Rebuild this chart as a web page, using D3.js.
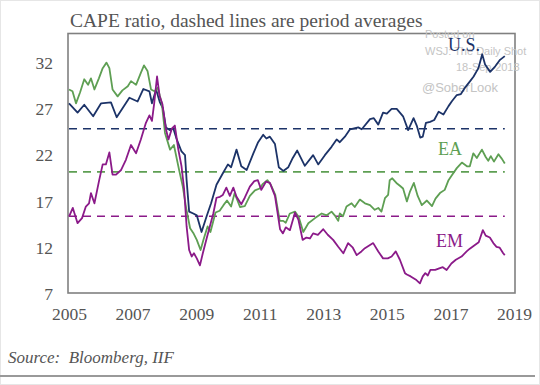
<!DOCTYPE html>
<html lang="en">
<head>
<meta charset="utf-8"/>
<title>CAPE ratio</title>
<script src="https://d3js.org/d3.v7.min.js"></script>
<style>
body { margin: 0; background: #fff; }
.title { font-family: "Liberation Serif", serif; font-size: 19.5px; fill: #555; }
.axis text { font-family: "Liberation Serif", serif; font-size: 17.5px; fill: #555; }
.axis path, .axis line { display: none; }
.line { fill: none; stroke-width: 1.8; stroke-linejoin: round; }
.avg { stroke-width: 1.6; stroke-dasharray: 8, 6; }
.label { font-family: "Liberation Serif", serif; font-size: 18px; }
.mark { font-family: "Liberation Sans", Arial, sans-serif; fill: #c4c4c4; }
.source { font-family: "Liberation Serif", serif; font-style: italic; font-size: 17px; fill: #555; }
</style>
</head>
<body>
<div id="chart"></div>
<script>
// values: [year, CAPE]
var usSeries = [[2005.00,27.6],[2005.27,26.6],[2005.48,27.45],[2005.76,26.2],[2006.01,27.6],[2006.32,27.7],[2006.50,26.1],
  [2006.90,28.2],[2007.16,27.8],[2007.34,29.15],[2007.53,28.9],[2007.61,27.6],[2007.74,29.1],[2007.86,27.7],[2007.95,27.1],
  [2008.05,25.0],[2008.18,24.7],[2008.28,24.9],[2008.39,23.7],[2008.54,22.4],[2008.65,22.0],[2008.70,19.3],[2008.78,15.9],
  [2008.91,15.7],[2009.02,15.5],[2009.17,13.7],[2009.33,15.4],[2009.47,16.8],[2009.64,18.8],[2009.85,20.1],[2010.00,21.0],
  [2010.10,20.7],[2010.27,22.6],[2010.42,20.8],[2010.59,20.4],[2010.80,22.2],[2010.95,23.4],[2011.11,24.2],[2011.21,23.8],
  [2011.32,24.0],[2011.48,23.2],[2011.60,20.7],[2011.74,20.3],[2011.90,20.7],[2012.04,21.7],[2012.18,22.5],[2012.42,20.85],
  [2012.68,22.0],[2012.84,21.0],[2013.05,22.0],[2013.26,22.9],[2013.42,23.7],[2013.52,23.4],[2013.68,24.0],[2013.84,24.8],
  [2014.10,25.0],[2014.21,24.8],[2014.47,25.9],[2014.59,26.0],[2014.73,25.3],[2014.88,26.6],[2015.00,26.5],[2015.15,27.0],
  [2015.31,27.0],[2015.51,26.2],[2015.67,24.7],[2015.84,26.0],[2015.94,25.2],[2016.05,23.9],[2016.13,24.0],[2016.23,25.5],
  [2016.36,25.6],[2016.49,25.8],[2016.63,26.7],[2016.78,26.4],[2016.94,27.3],[2017.04,27.8],[2017.20,28.5],[2017.33,28.6],
  [2017.46,29.3],[2017.62,30.0],[2017.73,30.5],[2017.88,31.4],[2018.00,32.9],[2018.09,31.8],[2018.25,31.0],[2018.41,31.6],
  [2018.56,32.3],[2018.71,32.7]];

var eaSeries = [[2005.00,29.1],[2005.11,28.9],[2005.22,27.6],[2005.35,28.8],[2005.48,30.2],[2005.60,29.6],[2005.69,30.3],
  [2005.80,29.1],[2005.94,30.3],[2006.06,31.4],[2006.18,32.0],[2006.27,31.4],[2006.37,29.1],[2006.53,28.35],[2006.68,29.0],
  [2006.85,29.45],[2006.95,30.0],[2007.11,29.6],[2007.26,30.9],[2007.36,31.7],[2007.47,31.1],[2007.58,29.1],[2007.69,28.9],
  [2007.79,29.3],[2007.92,27.6],[2008.02,24.4],[2008.18,22.6],[2008.30,23.1],[2008.47,20.3],[2008.58,18.6],[2008.69,16.2],
  [2008.81,14.1],[2008.91,13.6],[2009.02,12.85],[2009.14,11.75],[2009.23,12.85],[2009.36,14.3],[2009.45,13.7],[2009.61,15.8],
  [2009.74,16.0],[2009.86,16.6],[2009.97,17.1],[2010.10,16.45],[2010.21,17.9],[2010.38,16.4],[2010.53,16.5],[2010.69,17.6],
  [2010.85,18.2],[2011.00,18.4],[2011.10,18.9],[2011.24,19.3],[2011.35,18.8],[2011.49,17.7],[2011.63,14.9],[2011.74,14.9],
  [2011.82,14.7],[2011.95,15.7],[2012.11,15.9],[2012.23,15.3],[2012.37,13.7],[2012.53,14.65],[2012.74,15.2],[2012.95,15.7],
  [2013.11,15.5],[2013.26,15.9],[2013.36,15.5],[2013.47,14.9],[2013.52,15.7],[2013.62,15.4],[2013.73,16.45],[2013.89,16.8],
  [2013.99,16.4],[2014.15,17.2],[2014.31,16.8],[2014.47,16.6],[2014.62,16.1],[2014.73,16.3],[2014.83,15.9],[2014.94,17.35],
  [2015.04,17.7],[2015.09,19.3],[2015.17,19.5],[2015.30,19.0],[2015.41,18.7],[2015.51,18.4],[2015.63,17.0],[2015.73,18.1],
  [2015.85,19.0],[2015.97,17.6],[2016.10,16.6],[2016.26,17.1],[2016.42,16.5],[2016.53,17.3],[2016.67,17.9],[2016.82,18.25],
  [2016.94,19.3],[2017.04,19.8],[2017.20,20.6],[2017.36,21.2],[2017.52,20.8],[2017.61,20.8],[2017.72,22.2],[2017.83,21.7],
  [2017.99,22.6],[2018.11,21.8],[2018.19,21.4],[2018.27,21.9],[2018.37,21.3],[2018.51,22.1],[2018.62,21.6],[2018.71,21.1]];

var emSeries = [[2005.00,15.35],[2005.12,16.3],[2005.27,14.65],[2005.41,15.2],[2005.53,16.45],[2005.63,16.8],[2005.69,17.9],
  [2005.80,16.8],[2005.95,19.3],[2006.06,21.0],[2006.16,21.0],[2006.27,22.3],[2006.37,19.9],[2006.48,19.9],[2006.64,20.4],
  [2006.79,21.5],[2006.95,23.1],[2007.11,22.2],[2007.26,23.7],[2007.42,25.5],[2007.53,26.3],[2007.61,25.7],[2007.68,27.6],
  [2007.77,30.5],[2007.85,28.4],[2007.94,27.5],[2008.05,24.8],[2008.13,23.7],[2008.24,24.9],[2008.33,25.2],[2008.44,22.6],
  [2008.54,20.8],[2008.62,18.4],[2008.70,14.3],[2008.78,11.75],[2008.86,11.05],[2008.93,11.4],[2009.02,10.85],[2009.12,10.1],
  [2009.21,11.4],[2009.33,13.0],[2009.43,14.3],[2009.54,15.7],[2009.64,17.4],[2009.75,17.5],[2009.84,17.7],[2009.95,18.5],
  [2010.06,17.6],[2010.17,18.5],[2010.27,17.5],[2010.42,16.7],[2010.53,17.4],[2010.69,18.6],[2010.83,19.2],[2010.94,19.3],
  [2011.05,18.25],[2011.20,19.15],[2011.32,19.0],[2011.48,17.6],[2011.64,14.0],[2011.73,13.55],[2011.82,14.2],[2011.95,13.9],
  [2012.11,15.8],[2012.22,15.0],[2012.35,12.85],[2012.47,13.1],[2012.58,13.0],[2012.68,13.55],[2012.83,13.4],[2013.00,14.0],
  [2013.14,13.4],[2013.31,12.85],[2013.47,12.1],[2013.63,11.4],[2013.78,12.5],[2013.93,12.0],[2014.05,11.2],[2014.20,11.6],
  [2014.31,11.95],[2014.47,12.3],[2014.57,12.5],[2014.73,11.6],[2014.88,10.85],[2015.03,10.85],[2015.15,11.05],[2015.28,11.6],
  [2015.41,10.7],[2015.57,9.25],[2015.63,9.1],[2015.75,8.9],[2015.93,8.5],[2016.04,8.15],[2016.13,8.9],[2016.21,9.25],
  [2016.29,9.0],[2016.37,9.6],[2016.52,9.6],[2016.67,9.8],[2016.76,9.9],[2016.88,9.6],[2017.03,10.3],[2017.17,10.7],
  [2017.35,11.05],[2017.51,11.6],[2017.61,11.9],[2017.77,12.3],[2017.89,12.6],[2018.02,13.9],[2018.11,13.3],[2018.24,13.1],
  [2018.35,12.5],[2018.45,12.1],[2018.55,12.0],[2018.66,11.4],[2018.71,11.2]];

var seriesNames = ["U.S.", "EA", "EM"];
var periodAverages = [24.86, 20.2, 15.4];
var yTicks = [7, 12, 17, 22, 27, 32];
var xTicks = [2005, 2007, 2009, 2011, 2013, 2015, 2017, 2019];

var w = 540, h = 385;
var colors = ["#1c3368", "#5e9f53", "#8b1a89"];

var svg = d3.select("#chart").append("svg")
            .attr("width", w)
            .attr("height", h);

// faint outer border
svg.append("rect")
   .attr("x", 0.5).attr("y", 0.5)
   .attr("width", w - 1).attr("height", h - 1)
   .attr("fill", "none").attr("stroke", "#e6e6e6");

var xScale = d3.scaleLinear()
               .domain([2005, 2019])
               .range([69, 514]);

var yScale = d3.scaleLinear()
               .domain([7, 35.2])
               .range([294, 33]);

svg.append("text")
   .attr("class", "title")
   .attr("x", 70).attr("y", 27)
   .text("CAPE ratio, dashed lines are period averages");

// plot frame
svg.append("rect")
   .attr("x", 68).attr("y", 33.5)
   .attr("width", 447).attr("height", 259.5)
   .attr("fill", "none")
   .attr("stroke", "#808080")
   .attr("stroke-width", 1.6);

// watermark
var marks = [["Posted on", 425, 38, 11], ["WSJ: The Daily Shot", 425, 55, 11],
             ["18-Sep-2018", 456, 71, 11], ["@SoberLook", 422, 92, 13]];
marks.forEach(function(m){
   svg.append("text").attr("class", "mark")
      .attr("x", m[1]).attr("y", m[2])
      .style("font-size", m[3] + "px")
      .text(m[0]);
});

var xAxis = d3.axisBottom(xScale)
              .tickValues(xTicks)
              .tickFormat(d3.format("d"))
              .tickSize(0)
              .tickPadding(14);

svg.append("g")
   .attr("class", "axis")
   .attr("transform", "translate(0,294)")
   .call(xAxis);

var yAxis = d3.axisLeft(yScale)
              .tickValues(yTicks)
              .tickSize(0)
              .tickPadding(15);

svg.append("g")
   .attr("class", "axis")
   .attr("transform", "translate(68,0)")
   .call(yAxis);

// period averages
periodAverages.forEach(function(v, i){
   svg.append("line")
      .attr("class", "avg")
      .attr("x1", 69).attr("x2", xScale(2018.71))
      .attr("y1", yScale(v)).attr("y2", yScale(v))
      .attr("stroke", colors[i]);
});

var line = d3.line()
             .x(function(d){return xScale(d[0]);})
             .y(function(d){return yScale(d[1]);});

[usSeries, eaSeries, emSeries].forEach(function(s, i){
   svg.append("path")
      .datum(s)
      .attr("class", "line")
      .attr("stroke", colors[i])
      .attr("d", line);
});

// series labels
var labelPos = [[448, 51], [438, 155], [436, 247]];
seriesNames.forEach(function(n, i){
   svg.append("text")
      .attr("class", "label")
      .attr("x", labelPos[i][0]).attr("y", labelPos[i][1])
      .attr("fill", colors[i])
      .text(n);
});

svg.append("text")
   .attr("class", "source")
   .attr("x", 8).attr("y", 363)
   .attr("xml:space", "preserve")
   .text("Source:  Bloomberg, IIF");

svg.append("line")
   .attr("x1", 0).attr("x2", 535)
   .attr("y1", 376).attr("y2", 376)
   .attr("stroke", "#999")
   .attr("stroke-width", 2);
</script>
</body>
</html>
